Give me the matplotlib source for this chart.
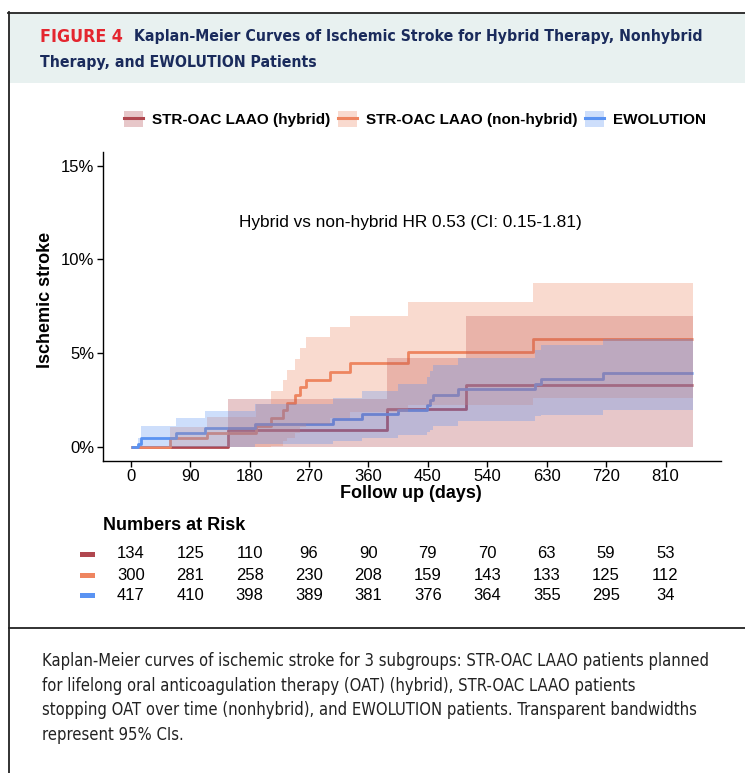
import matplotlib
matplotlib.use("Agg")
import matplotlib.pyplot as plt
from matplotlib.lines import Line2D
from matplotlib.patches import Patch, Rectangle
from matplotlib import transforms
from matplotlib import font_manager as fm

W, H = 745, 773

# ---- data (days, % with ischemic stroke) ----
end_day = 851

hyb_t = [0, 147, 388, 508]
hyb_y = [0, 0.88, 2.03, 3.31]
hyb_hi = [0, 2.53, 4.72, 7.0]
hyb_lo = [0, 0, 0, 0]

non_t = [0, 59, 115, 190, 213, 231, 236, 248, 256, 266, 302, 332, 420, 609]
non_y = [0, 0.45, 0.75, 1.08, 1.52, 1.97, 2.32, 2.77, 3.21, 3.56, 4.0, 4.45, 5.05, 5.73]
non_hi = [0, 1.05, 1.6, 2.3, 2.95, 3.55, 4.1, 4.7, 5.25, 5.85, 6.37, 6.97, 7.75, 8.76]
non_lo = [0, 0, 0, 0, 0.05, 0.3, 0.45, 0.75, 1.05, 1.2, 1.55, 1.85, 2.23, 2.6]

ewo_t = [0, 11, 16, 69, 112, 188, 307, 350, 405, 448, 453, 458, 496, 613, 621, 716]
ewo_y = [0, 0.13, 0.48, 0.71, 0.98, 1.19, 1.47, 1.72, 1.95, 2.22, 2.49, 2.75, 3.06, 3.32, 3.59, 3.91]
ewo_hi = [0, 0.45, 1.12, 1.54, 1.9, 2.26, 2.61, 2.98, 3.34, 3.73, 4.05, 4.35, 4.71, 5.15, 5.42, 5.77]
ewo_lo = [0, 0, 0, 0, 0, 0.15, 0.28, 0.45, 0.6, 0.76, 0.9, 1.1, 1.35, 1.65, 1.7, 1.97]

risk_days = [0, 90, 180, 270, 360, 450, 540, 630, 720, 810]
risk_hyb = [134, 125, 110, 96, 90, 79, 70, 63, 59, 53]
risk_non = [300, 281, 258, 230, 208, 159, 143, 133, 125, 112]
risk_ewo = [417, 410, 398, 389, 381, 376, 364, 355, 295, 34]

labels = ["STR-OAC LAAO (hybrid)", "STR-OAC LAAO (non-hybrid)", "EWOLUTION"]
hyb_col = "#B0474F"
non_col = "#EE8560"
ewo_col = "#5A93F2"

arial = ["Liberation Sans", "DejaVu Sans"]

# condensed face for the journal header/caption if there is one
cond = None
for fam in ["Liberation Sans Narrow", "DejaVu Sans"]:
    try:
        p = fm.findfont(fm.FontProperties(family=fam, stretch="condensed"), fallback_to_default=False)
        if "Narrow" in p or "Condensed" in p:
            cond = fam
            break
    except Exception:
        pass
if cond is None:
    head_kw = dict(family=arial)
else:
    head_kw = dict(family=[cond, "DejaVu Sans"], fontstretch="condensed")


def fx(x):
    return x / W


def fy(y):
    return 1 - y / H


fig = plt.figure(figsize=(W / 100, H / 100), dpi=100)
renderer = fig.canvas.get_renderer()


def fit(txt, width):
    w = txt.get_window_extent(renderer).width
    txt.set_fontsize(txt.get_fontsize() * width / w)
    return txt.get_fontsize()


# ---- frame / header ----
fig.patches.append(Rectangle((fx(9), fy(83)), 1, fy(13) - fy(83), transform=fig.transFigure,
                             facecolor="#E8F1F0", edgecolor="none", zorder=0))
fig.add_artist(Line2D([fx(8), 1], [fy(12.5), fy(12.5)], color="#222222", lw=1.3))
fig.add_artist(Line2D([fx(9), fx(9)], [fy(12), 0], color="#222222", lw=1.3))
fig.add_artist(Line2D([fx(9), 1], [fy(628), fy(628)], color="#222222", lw=1.3))

t1 = fig.text(fx(40), fy(37), "FIGURE 4", color="#E4262F", fontsize=10, fontweight="bold",
              va="center", **head_kw)
fit(t1, 82)
t2 = fig.text(fx(134), fy(37), "Kaplan-Meier Curves of Ischemic Stroke for Hybrid Therapy, Nonhybrid",
              color="#1A2B5C", fontsize=10, fontweight="bold", va="center", **head_kw)
hs = fit(t2, 566)
fig.text(fx(40), fy(62), "Therapy, and EWOLUTION Patients",
         color="#1A2B5C", fontsize=hs, fontweight="bold", va="center", **head_kw)

# ---- KM plot ----
ax = fig.add_axes([fx(102.7), fy(460.7), fx(720.7) - fx(102.7), fy(151.7) - fy(460.7)])

groups = [
    (hyb_t, hyb_y, hyb_lo, hyb_hi, hyb_col),
    (non_t, non_y, non_lo, non_hi, non_col),
    (ewo_t, ewo_y, ewo_lo, ewo_hi, ewo_col),
]
for i, (t, y, lo, hi, col) in enumerate(groups):
    ax.step(t + [end_day], y + [y[-1]], where="post", color=col, lw=2.0, zorder=2 + i * 0.1,
            solid_capstyle="butt")
for t, y, lo, hi, col in groups:
    ax.fill_between(t + [end_day], lo + [lo[-1]], hi + [hi[-1]], step="post",
                    facecolor=col, alpha=0.3, lw=0, zorder=3)

ax.set_xlim(-42.55, 893.55)
ax.set_ylim(-0.75, 15.75)
ax.set_xticks(risk_days)
ax.set_yticks([0, 5, 10, 15])
ax.set_yticklabels(["0%", "5%", "10%", "15%"])
for s in ["top", "right"]:
    ax.spines[s].set_visible(False)
for s in ["left", "bottom"]:
    ax.spines[s].set_linewidth(1.0)
ax.tick_params(direction="out", length=4, width=1, labelsize=12, pad=2)
for lab in ax.get_xticklabels() + ax.get_yticklabels():
    lab.set_family(arial)

ax.text(424, 11.96, "Hybrid vs non-hybrid HR 0.53 (CI: 0.15-1.81)", ha="center", va="center",
        fontsize=12.4, family=arial)

fig.text(fx(46), fy(300), "Ischemic stroke", rotation=90, ha="center", va="center",
         fontsize=13, fontweight="bold", family=arial)
fig.text(fx(411), fy(494), "Follow up (days)", ha="center", va="center",
         fontsize=13, fontweight="bold", family=arial)

# ---- legend ----
handles = [(Patch(facecolor=c, alpha=0.3, edgecolor="none"), Line2D([], [], color=c, lw=2.2))
           for c in [hyb_col, non_col, ewo_col]]
fig.legend(handles, labels, loc="center", bbox_to_anchor=(fx(415), fy(119)), ncol=3,
           frameon=False, handlelength=1.25, handleheight=1.25, handletextpad=0.6,
           columnspacing=0.5, prop={"family": arial, "weight": "bold", "size": 11})

# ---- numbers at risk ----
fig.text(fx(103), fy(525), "Numbers at Risk", ha="left", va="center",
         fontsize=13, fontweight="bold", family=arial)
trans = transforms.blended_transform_factory(ax.transData, fig.transFigure)
for row_y, vals, col in [(554, risk_hyb, hyb_col), (575, risk_non, non_col), (595, risk_ewo, ewo_col)]:
    fig.patches.append(Rectangle((fx(80), fy(row_y + 2.5)), fx(95) - fx(80), 5 / H,
                                 transform=fig.transFigure, facecolor=col, edgecolor="none"))
    for d, v in zip(risk_days, vals):
        fig.text(d, fy(row_y), str(v), transform=trans, ha="center", va="center",
                 fontsize=12, family=arial)

# ---- caption ----
caption = [
    "Kaplan-Meier curves of ischemic stroke for 3 subgroups: STR-OAC LAAO patients planned",
    "for lifelong oral anticoagulation therapy (OAT) (hybrid), STR-OAC LAAO patients",
    "stopping OAT over time (nonhybrid), and EWOLUTION patients. Transparent bandwidths",
    "represent 95% CIs.",
]
c0 = fig.text(fx(42), fy(661), caption[0], ha="left", va="center", color="#222222",
              fontsize=10, **head_kw)
cs = fit(c0, 665)
for k, line in enumerate(caption[1:], start=1):
    fig.text(fx(42), fy(661 + 24.7 * k), line, ha="left", va="center", color="#222222",
             fontsize=cs, **head_kw)

fig.savefig("out.png", dpi=100)
